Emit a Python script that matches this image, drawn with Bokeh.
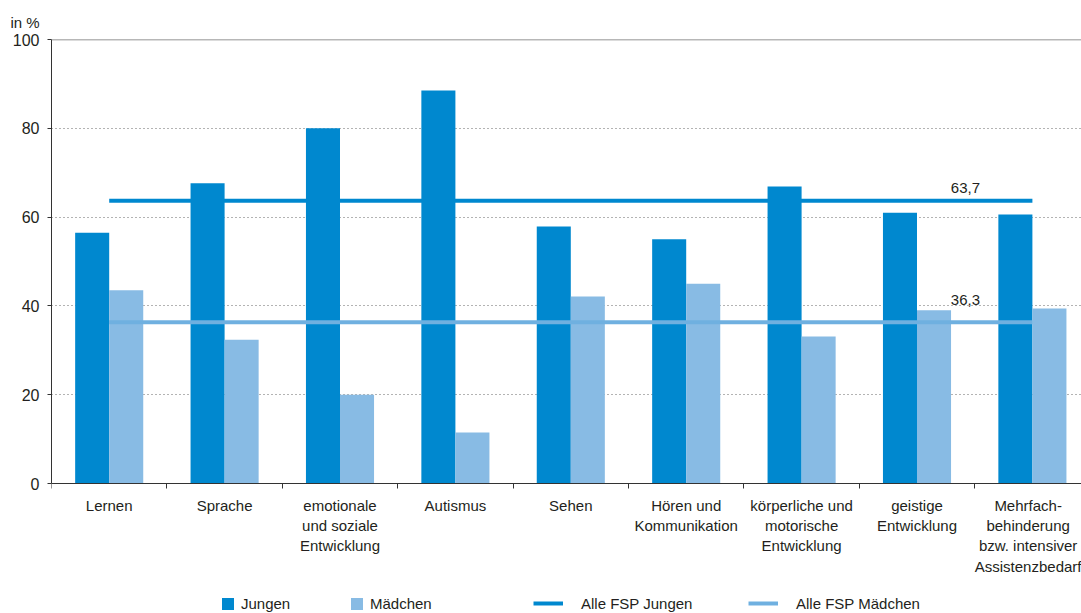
from bokeh.plotting import figure
from bokeh.models import Range1d, FixedTicker, Span, Label, Legend, LegendItem
from bokeh.embed import file_html
from bokeh.resources import INLINE

# ---- data ----
categories = [
    "Lernen",
    "Sprache",
    "emotionale\nund soziale\nEntwicklung",
    "Autismus",
    "Sehen",
    "Hören und\nKommunikation",
    "körperliche und\nmotorische\nEntwicklung",
    "geistige\nEntwicklung",
    "Mehrfach-\nbehinderung\nbzw. intensiver\nAssistenzbedarf",
]
jungen = [56.5, 67.6, 80.0, 88.5, 57.9, 55.0, 66.9, 61.0, 60.6]
maedchen = [43.5, 32.4, 20.0, 11.5, 42.1, 45.0, 33.1, 39.0, 39.4]
avg_jungen = 63.7
avg_maedchen = 36.3
y_ticks = [0, 20, 40, 60, 80, 100]

# ---- style ----
FONT = "Liberation Sans"
TXT = "#231f20"
C_J = "#0088cf"
C_M = "#88bbe4"
C_ML = "#6fb0e0"

n = len(categories)
centers = [i + 0.5 for i in range(n)]
bounds = [float(i) for i in range(n + 1)]
bw = 0.295
xj = [c - bw / 2 for c in centers]
xm = [c + bw / 2 for c in centers]

W, H = 1081, 613
LEFT, TOP, AXIS_Y = 51, 39, 483
px_per_cat = 115.4
px_per_unit = (AXIS_Y - TOP) / 100.0

x_end = (W - LEFT) / px_per_cat
y_start = -(H - AXIS_Y) / px_per_unit

p = figure(width=W, height=H,
           x_range=Range1d(0, x_end), y_range=Range1d(y_start, 100),
           output_backend="svg", toolbar_location=None,
           min_border_left=LEFT, min_border_right=0, min_border_top=TOP, min_border_bottom=0,
           title="in %")
p.outline_line_color = None
p.background_fill_color = "white"
p.title.align = "left"
p.title.offset = -41
p.title.text_font = FONT
p.title.text_font_size = "15px"
p.title.text_font_style = "normal"
p.title.text_color = TXT
p.title.standoff = 18

p.xgrid.visible = False
p.ygrid.ticker = FixedTicker(ticks=[t for t in y_ticks if 0 < t < 100])
p.ygrid.grid_line_color = "#666666"
p.ygrid.grid_line_dash = "1 3"
p.ygrid.grid_line_width = 1

p.add_layout(Span(location=y_ticks[-1], dimension="width", line_color="#707070", line_width=1.5))

bj = p.vbar(x=xj, top=jungen, bottom=0, width=bw, color=C_J, line_color=None)
bm = p.vbar(x=xm, top=maedchen, bottom=0, width=bw, color=C_M, line_color=None)

lx = [centers[0], centers[-1]]
lj = p.line(x=lx, y=[avg_jungen, avg_jungen], line_color=C_J, line_width=4)
lm = p.line(x=lx, y=[avg_maedchen, avg_maedchen], line_color=C_ML, line_width=4)

fmt = lambda v: f"{v:.1f}".replace(".", ",")
lab_x = 7.92
p.add_layout(Label(x=lab_x, y=avg_jungen, text=fmt(avg_jungen), y_offset=13,
                   text_align="center", text_baseline="alphabetic",
                   text_font=FONT, text_font_size="15px", text_color=TXT))
p.add_layout(Label(x=lab_x, y=avg_maedchen, text=fmt(avg_maedchen), y_offset=22,
                   text_align="center", text_baseline="alphabetic",
                   text_font=FONT, text_font_size="15px", text_color=TXT))

# axes
xa = p.xaxis[0]
xa.fixed_location = 0
xa.bounds = (0, x_end)
xa.ticker = FixedTicker(ticks=centers, minor_ticks=bounds)
xa.major_label_overrides = {c: lab for c, lab in zip(centers, categories)}
xa.major_tick_out = 0
xa.major_tick_in = 0
xa.minor_tick_out = 5
xa.minor_tick_in = 0
xa.minor_tick_line_color = "#333333"
xa.axis_line_color = "#333333"
xa.major_label_standoff = 8
xa.major_label_text_font = FONT
xa.major_label_text_font_size = "15px"
xa.major_label_text_color = TXT
xa.major_label_text_line_height = 1.2

ya = p.yaxis[0]
ya.bounds = (0, 100)
ya.ticker = FixedTicker(ticks=y_ticks)
ya.major_tick_out = 4
ya.major_tick_in = 0
ya.minor_tick_line_color = None
ya.axis_line_color = "#333333"
ya.major_tick_line_color = "#333333"
ya.major_label_standoff = 8
ya.major_label_text_font = FONT
ya.major_label_text_font_size = "16px"
ya.major_label_text_color = TXT


def add_leg(label, rend, vx, gw, gh, standoff):
    leg = Legend(items=[LegendItem(label=label, renderers=[rend])],
                 location=(vx, 0), orientation="horizontal",
                 padding=0, margin=0, spacing=0,
                 glyph_width=gw, glyph_height=gh, label_standoff=standoff,
                 label_height=20,
                 border_line_alpha=0, background_fill_alpha=0,
                 label_text_font=FONT, label_text_font_size="15px",
                 label_text_color=TXT)
    p.add_layout(leg)


add_leg("Jungen", bj, 169, 15, 15, 6)
add_leg("Mädchen", bm, 298, 15, 15, 6)
add_leg("Alle FSP Jungen", lj, 482, 30, 20, 18)
add_leg("Alle FSP Mädchen", lm, 697, 30, 20, 18)

open("out.html", "w").write(file_html(p, INLINE))
